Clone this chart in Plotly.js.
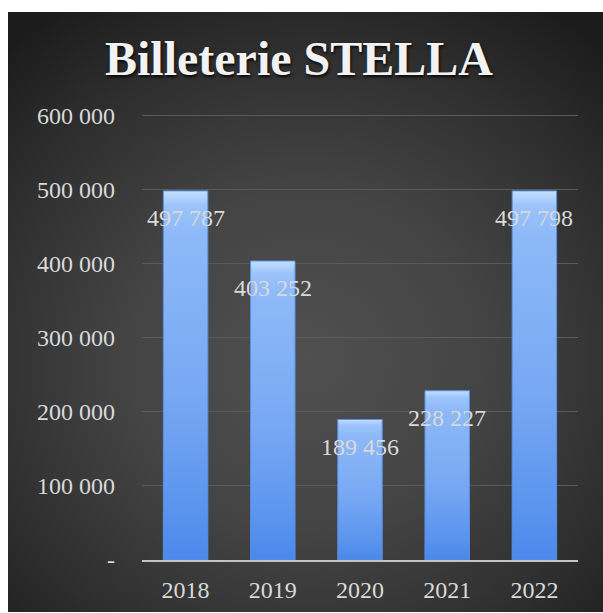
<!DOCTYPE html>
<html>
<head>
<meta charset="utf-8">
<script src="https://cdn.plot.ly/plotly-3.0.1.min.js"></script>
<style>
  html, body { margin: 0; padding: 0; background: #ffffff; }
  #chart {
    position: absolute; left: 8px; top: 12px; width: 595px; height: 600px;
    background: radial-gradient(ellipse 75% 70% at 50% 58%, #505050 0%, #444444 40%, #2e2e2e 75%, #1c1c1c 100%);
  }
</style>
</head>
<body>
<div id="chart"></div>
<script>
const years = ['2018', '2019', '2020', '2021', '2022'];
const tickets = [497787, 403252, 189456, 228227, 497798];
const valueLabels = ['497 787', '403 252', '189 456', '228 227', '497 798'];
const yTickVals = [0, 100000, 200000, 300000, 400000, 500000, 600000];
const yTickText = ['-', '100 000', '200 000', '300 000', '400 000', '500 000', '600 000'];

const serif = 'Liberation Serif, Times New Roman, serif';
const labelColor = '#d9d9d9';

const trace = {
  type: 'bar',
  x: years,
  y: tickets,
  marker: { color: '#80aaf0', line: { color: '#5b8fe0', width: 1 } },
  hoverinfo: 'skip'
};

const annotations = years.map((yr, i) => ({
  x: i, y: tickets[i], xref: 'x', yref: 'y',
  text: valueLabels[i], showarrow: false,
  yshift: -27, yanchor: 'middle',
  font: { family: serif, size: 24, color: labelColor }
}));

const layout = {
  width: 595, height: 600,
  paper_bgcolor: 'rgba(0,0,0,0)',
  plot_bgcolor: 'rgba(0,0,0,0)',
  margin: { l: 134, r: 25, t: 102, b: 52 },
  bargap: 0.49,
  showlegend: false,
  title: {
    text: 'Billeterie STELLA',
    x: 0.489, xanchor: 'center', xref: 'container',
    y: 0.923, yanchor: 'middle', yref: 'container',
    font: { family: serif, size: 48, color: '#f2f2f2', weight: 'bold', shadow: '1px 2px 3px rgba(0,0,0,0.85)' }
  },
  xaxis: {
    type: 'category',
    range: [-0.5, 4.5], autorange: false,
    showline: true, linecolor: '#c4c4c4', linewidth: 2,
    showgrid: false, ticks: '',
    ticklabelstandoff: 7,
    tickfont: { family: serif, size: 24, color: labelColor }
  },
  yaxis: {
    range: [0, 601500], autorange: false,
    tickvals: yTickVals, ticktext: yTickText,
    showgrid: true, gridcolor: '#5a5a5a', gridwidth: 1,
    zeroline: false, showline: false, ticks: '',
    ticklabelstandoff: 26,
    tickfont: { family: serif, size: 24, color: labelColor }
  },
  annotations: annotations
};

Plotly.newPlot('chart', [trace], layout, { staticPlot: true, displayModeBar: false }).then(gd => {
  // vertical gradient fill for the bars (styling only)
  const svgNS = 'http://www.w3.org/2000/svg';
  const svg = gd.querySelector('svg.main-svg');
  let defs = svg.querySelector('defs');
  if (!defs) { defs = document.createElementNS(svgNS, 'defs'); svg.insertBefore(defs, svg.firstChild); }
  const grad = document.createElementNS(svgNS, 'linearGradient');
  grad.setAttribute('id', 'barGrad');
  grad.setAttribute('x1', '0'); grad.setAttribute('y1', '0');
  grad.setAttribute('x2', '0'); grad.setAttribute('y2', '1');
  [['0', '#c4e0ff'], ['0.04', '#9cc4fb'], ['0.12', '#8db9f8'], ['0.55', '#78a8f3'], ['0.85', '#5b95ee'], ['1', '#4a88ea']]
    .forEach(([o, c]) => {
      const s = document.createElementNS(svgNS, 'stop');
      s.setAttribute('offset', o); s.setAttribute('stop-color', c);
      grad.appendChild(s);
    });
  defs.appendChild(grad);
  gd.querySelectorAll('.bars .point path').forEach(p => { p.style.fill = 'url(#barGrad)'; });
});
</script>
</body>
</html>
